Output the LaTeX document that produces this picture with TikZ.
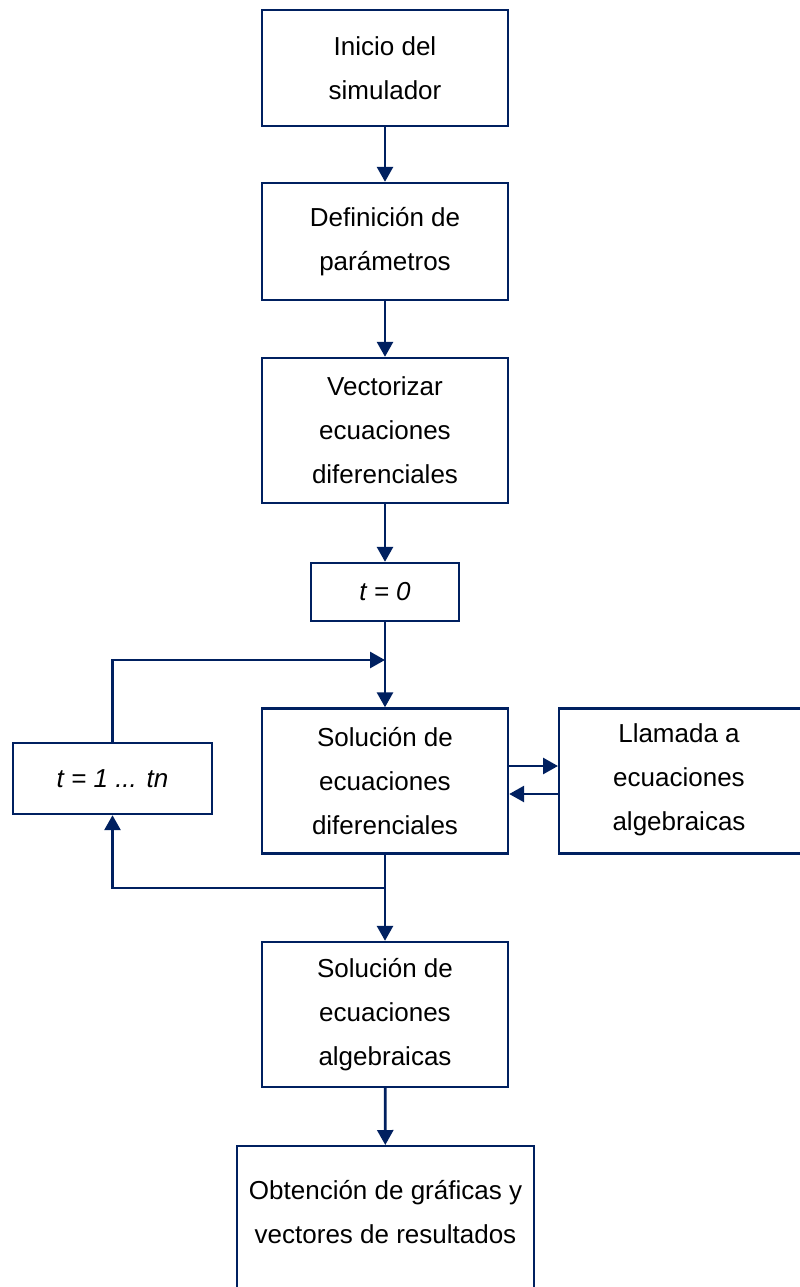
\documentclass[tikz,border=0pt]{standalone}
\usepackage{fontspec}
\setmainfont{Liberation Sans}
\usetikzlibrary{arrows.meta}
\definecolor{navy}{RGB}{0,32,96}
\tikzset{
  box/.style={draw=navy, line width=2.4pt, fill=white, align=center, text=black,
    font=\fontsize{26}{44}\selectfont, inner sep=0pt, minimum width=246pt},
  arr/.style={draw=navy, line width=2.8pt, -{Triangle[length=15pt,width=16pt]}},
  txt/.style={align=center, text=black, font=\fontsize{26}{44}\selectfont, inner sep=0pt}
}
\begin{document}
\begin{tikzpicture}[x=1pt,y=-1pt]
\useasboundingbox (0,0) rectangle (800,1287);
\clip (0,0) rectangle (800,1287);
\fill[white] (0,0) rectangle (800,1287);
\node[box, minimum height=116pt] (b1) at (385,68) {Inicio del\\simulador};
\node[box, minimum height=117pt] (b2) at (385,241.5) {Definición de\\parámetros};
\node[box, minimum height=145pt] (b3) at (385,430.5) {Vectorizar\\ecuaciones\\diferenciales};
\node[box, minimum width=148pt, minimum height=58pt] (b4) at (385,592) {\itshape t = 0};
\node[box, minimum height=145pt] (b5) at (385,781) {Solución de\\ecuaciones\\diferenciales};
\node[box, minimum width=270pt, minimum height=145pt, anchor=west] (b6) at (558,781) {};
\node[txt] (b6t) at (679,780) {Llamada a\\ecuaciones\\algebraicas};
\node[box, minimum width=199pt, minimum height=71pt] (b7) at (112.5,778.5) {\itshape t = 1 ... tn};
\node[box, minimum height=145pt] (b8) at (385,1014.5) {Solución de\\ecuaciones\\algebraicas};
\node[box, minimum width=297pt, minimum height=200pt, anchor=north] (b9) at (385.5,1145) {};
\node[txt] (b9t) at (385.5,1212) {Obtención de gráficas y\\vectores de resultados};
\coordinate (j1) at (385,660);
\coordinate (j2) at (385,888);
\draw[arr] (b1) -- (b2);
\draw[arr] (b2) -- (b3);
\draw[arr] (b3) -- (b4);
\draw[arr] (b4) -- (b5);
\draw[arr] (b7.north) |- (j1);
\draw[arr] (b5) -- (b8);
\draw[arr] (j2) -| (b7.south);
\draw[arr] (b8) -- (b9);
\draw[arr] ([yshift=15pt]b5.east) -- ([yshift=15pt]b6.west);
\draw[arr] ([yshift=-13pt]b6.west) -- ([yshift=-13pt]b5.east);
\end{tikzpicture}
\end{document}
